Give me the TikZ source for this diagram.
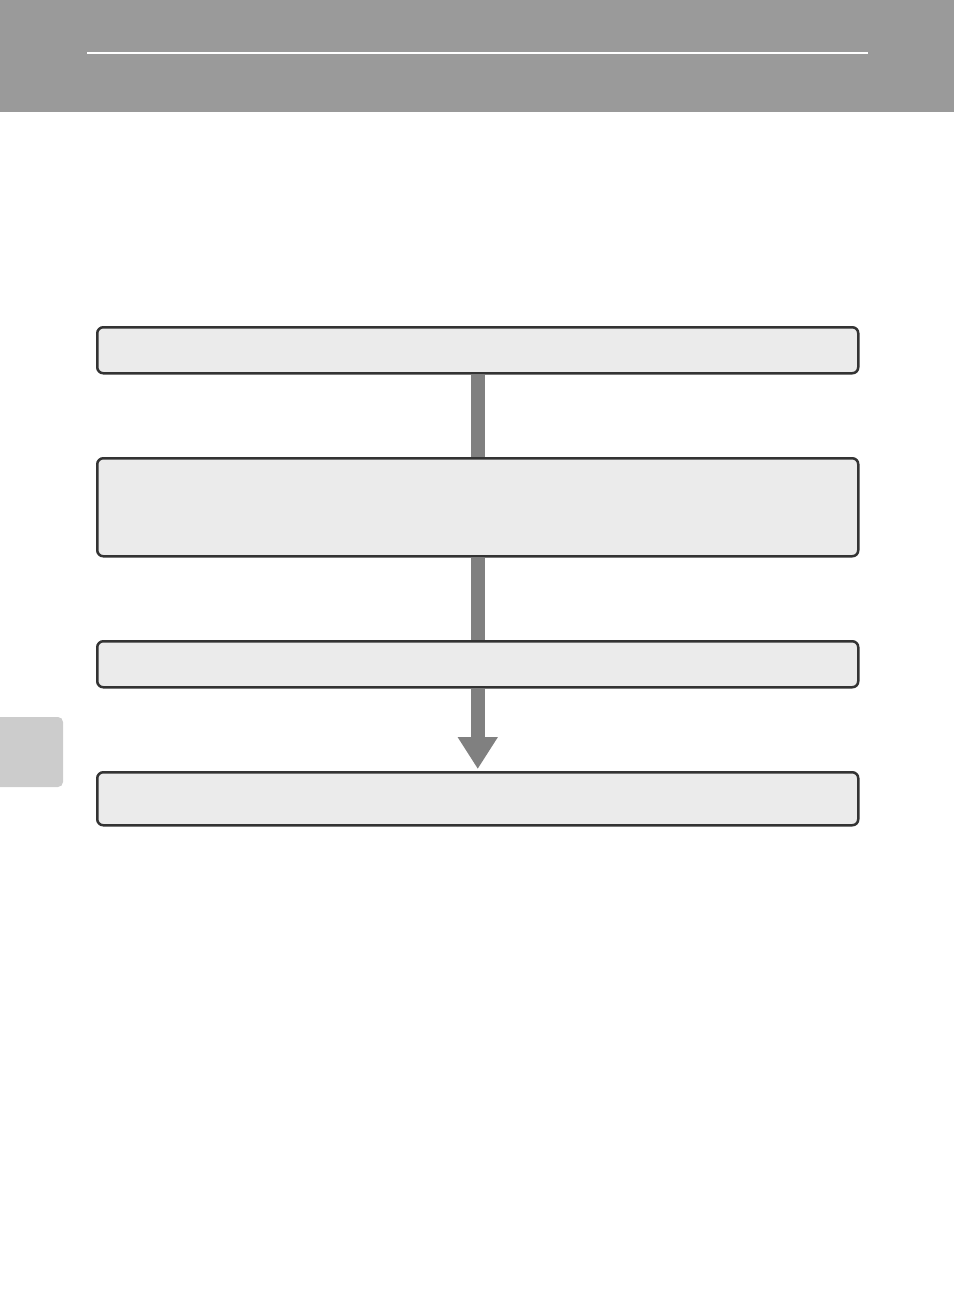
\documentclass[tikz,border=0pt]{standalone}
\usetikzlibrary{arrows.meta,backgrounds}
\definecolor{headgray}{HTML}{9A9A9A}
\definecolor{boxfill}{HTML}{EBEBEB}
\definecolor{boxline}{HTML}{333333}
\definecolor{shaftgray}{HTML}{808080}
\definecolor{tabgray}{HTML}{CCCCCC}
\begin{document}
\begin{tikzpicture}[x=1pt,y=-1pt,
  stepbox/.style={draw=boxline,fill=boxfill,line width=2.5pt,rounded corners=6pt,
    minimum width=761pt,inner sep=0pt,anchor=north west},
  shaft/.style={draw=shaftgray,line width=14pt},
  shafttip/.style={draw=shaftgray,line width=14pt,-{Triangle[length=32pt,width=38pt]}}]
\useasboundingbox (0,0) rectangle (954,1313);
% header band
\fill[headgray] (0,0) rectangle (954,112);
\draw[white,line width=1.2pt] (87,53) -- (868,53);
% side tab
\fill[tabgray,rounded corners=5pt] (-10,717) rectangle (63,787);
% boxes
\node[stepbox,minimum height=46pt] (b1) at (96,326) {};
\node[stepbox,minimum height=98pt] (b2) at (96,457) {};
\node[stepbox,minimum height=46pt] (b3) at (96,640) {};
\node[stepbox,minimum height=53pt] (b4) at (96,771) {};
% connectors
\begin{pgfonlayer}{background}
\draw[shaft] (b1.south) -- (b2.north);
\draw[shaft] (b2.south) -- (b3.north);
\draw[shafttip] (b3.south) -- ([yshift=2pt]b4.north);
\end{pgfonlayer}
\end{tikzpicture}
\end{document}
